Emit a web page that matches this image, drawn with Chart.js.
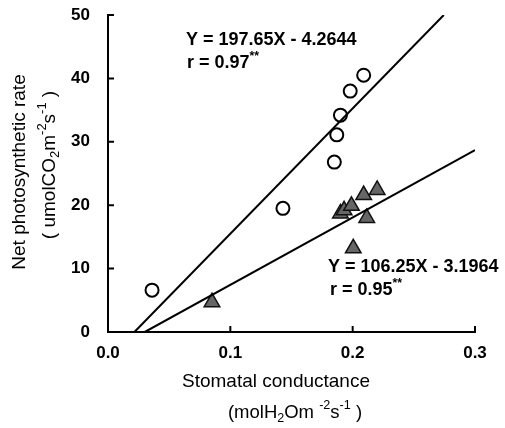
<!DOCTYPE html>
<html>
<head>
<meta charset="utf-8">
<script src="https://cdn.jsdelivr.net/npm/chart.js@4/dist/chart.umd.min.js"></script>
<style>
  html, body { margin: 0; padding: 0; background: #fff; }
  #wrap { width: 505px; height: 428px; }
</style>
</head>
<body>
<div id="wrap"><canvas id="chart" width="505" height="428"></canvas></div>
<script>
// Data
const circleX = [0.036, 0.143, 0.185, 0.187, 0.190, 0.198, 0.209];
const circleY = [6.6, 19.5, 26.8, 31.1, 34.2, 38.0, 40.5];

const triangleX = [0.085, 0.190, 0.193, 0.199, 0.2005, 0.209, 0.2115, 0.220];
const triangleY = [4.7, 18.7, 19.2, 19.9, 13.2, 21.6, 18.0, 22.4];

// Regression lines (end points)
const lineCircleX = [0.0216, 0.2745];
const lineCircleY = [0, 50];
const lineTriangleX = [0.0301, 0.3];
const lineTriangleY = [0, 28.7];

const xTicks = [0.0, 0.1, 0.2, 0.3];
const yTicks = [0, 10, 20, 30, 40, 50];

const toPoints = (xs, ys) => xs.map((x, i) => ({ x: x, y: ys[i] }));

const FONT = '"Liberation Sans", Arial, sans-serif';

// Draw text pieces with sub/superscripts
function drawRich(ctx, parts, x, y, size, align) {
  let total = 0;
  parts.forEach(p => {
    const s = p.sub || p.sup ? size * 0.68 : size;
    ctx.font = (p.bold ? 'bold ' : '') + s + 'px ' + FONT;
    p.w = ctx.measureText(p.t).width;
    total += p.w;
  });
  let cx = align === 'center' ? x - total / 2 : x;
  parts.forEach(p => {
    const s = p.sub || p.sup ? size * 0.68 : size;
    ctx.font = (p.bold ? 'bold ' : '') + s + 'px ' + FONT;
    let dy = 0;
    if (p.sub) dy = size * 0.3;
    if (p.sup) dy = -size * 0.38;
    ctx.fillText(p.t, cx, y + dy);
    cx += p.w;
  });
}

// inward tick marks, axis titles and equations
const decorPlugin = {
  id: 'decor',
  afterDraw(chart) {
    const ctx = chart.ctx;
    const x = chart.scales.x;
    const y = chart.scales.y;
    const area = chart.chartArea;
    ctx.save();
    ctx.strokeStyle = '#000';
    ctx.lineWidth = 2;
    ctx.beginPath();
    yTicks.forEach(v => {
      if (v === 0) return;
      const py = y.getPixelForValue(v);
      ctx.moveTo(area.left, py);
      ctx.lineTo(area.left + 6, py);
    });
    xTicks.forEach(v => {
      if (v === 0) return;
      const px = x.getPixelForValue(v);
      ctx.moveTo(px, area.bottom);
      ctx.lineTo(px, area.bottom - 6);
    });
    ctx.stroke();

    ctx.fillStyle = '#000';
    ctx.textBaseline = 'middle';

    // x axis title
    ctx.textAlign = 'left';
    drawRich(ctx, [{ t: 'Stomatal conductance' }], 276, 382, 19, 'center');
    drawRich(ctx, [
      { t: '(molH' }, { t: '2', sub: true }, { t: 'Om ' },
      { t: '-2', sup: true }, { t: 's' }, { t: '-1', sup: true }, { t: ' )' }
    ], 295, 413, 18.5, 'center');

    // y axis title
    ctx.save();
    ctx.translate(20, 172);
    ctx.rotate(-Math.PI / 2);
    drawRich(ctx, [{ t: 'Net photosynthetic rate' }], 0, 0, 19, 'center');
    ctx.restore();
    ctx.save();
    ctx.translate(50, 165);
    ctx.rotate(-Math.PI / 2);
    drawRich(ctx, [
      { t: '( umolCO' }, { t: '2', sub: true }, { t: 'm' },
      { t: '-2', sup: true }, { t: 's' }, { t: '-1', sup: true }, { t: ' )' }
    ], 0, 0, 19, 'center');
    ctx.restore();

    // equations
    drawRich(ctx, [{ t: 'Y = 197.65X - 4.2644', bold: true }], 186, 40, 18, 'left');
    drawRich(ctx, [{ t: 'r = 0.97', bold: true }, { t: '**', bold: true, sup: true }], 187, 63, 18, 'left');
    drawRich(ctx, [{ t: 'Y = 106.25X - 3.1964', bold: true }], 328, 267, 18, 'left');
    drawRich(ctx, [{ t: 'r = 0.95', bold: true }, { t: '**', bold: true, sup: true }], 330, 290, 18, 'left');
    ctx.restore();
  }
};

new Chart(document.getElementById('chart'), {
  type: 'scatter',
  data: {
    datasets: [
      {
        label: 'fit circles',
        data: toPoints(lineCircleX, lineCircleY),
        showLine: true,
        borderColor: '#000',
        borderWidth: 2,
        pointRadius: 0
      },
      {
        label: 'fit triangles',
        data: toPoints(lineTriangleX, lineTriangleY),
        showLine: true,
        borderColor: '#000',
        borderWidth: 2,
        pointRadius: 0
      },
      {
        label: 'circles',
        data: toPoints(circleX, circleY),
        pointStyle: 'circle',
        pointRadius: 6.5,
        borderWidth: 2,
        borderColor: '#000',
        backgroundColor: '#fff'
      },
      {
        label: 'triangles',
        data: toPoints(triangleX, triangleY),
        pointStyle: 'triangle',
        pointRadius: 9,
        borderWidth: 1.5,
        borderColor: '#111',
        backgroundColor: '#666'
      }
    ]
  },
  options: {
    responsive: false,
    devicePixelRatio: 1,
    animation: false,
    layout: { padding: { top: 15, right: 30, left: 0, bottom: 0 } },
    plugins: {
      legend: { display: false },
      tooltip: { enabled: false }
    },
    scales: {
      x: {
        type: 'linear',
        min: 0,
        max: 0.3,
        afterFit(scale) { scale.height = 96; },
        afterBuildTicks(scale) { scale.ticks = xTicks.map(v => ({ value: v })); },
        grid: { display: false },
        border: { display: true, color: '#000', width: 2 },
        ticks: {
          color: '#000',
          padding: 3,
          font: { family: FONT, size: 17, weight: 'bold' },
          callback: v => v.toFixed(1)
        }
      },
      y: {
        type: 'linear',
        min: 0,
        max: 50,
        afterFit(scale) {
          scale.width = 108;
          scale.paddingTop = 0;
          scale.paddingBottom = 0;
        },
        afterBuildTicks(scale) { scale.ticks = yTicks.map(v => ({ value: v })); },
        grid: { display: false },
        border: { display: true, color: '#000', width: 2 },
        ticks: {
          color: '#000',
          padding: 10,
          font: { family: FONT, size: 17, weight: 'bold' }
        }
      }
    }
  },
  plugins: [decorPlugin]
});
</script>
</body>
</html>
